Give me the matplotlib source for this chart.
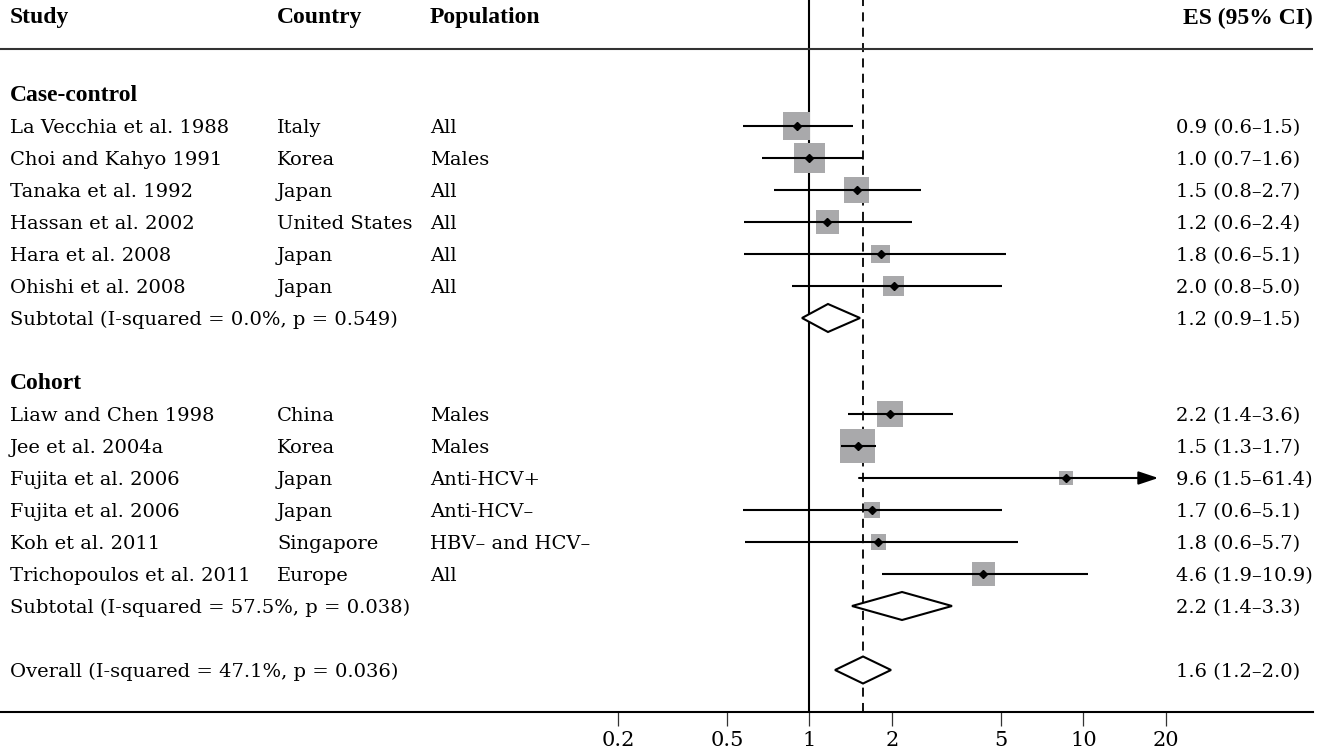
import numpy as np
import matplotlib
matplotlib.use("Agg")
import matplotlib.pyplot as plt
from matplotlib.patches import Polygon
from matplotlib.transforms import blended_transform_factory

# ---------------- data ----------------
studies = ["La Vecchia et al. 1988", "Choi and Kahyo 1991", "Tanaka et al. 1992",
           "Hassan et al. 2002", "Hara et al. 2008", "Ohishi et al. 2008",
           "Liaw and Chen 1998", "Jee et al. 2004a", "Fujita et al. 2006",
           "Fujita et al. 2006", "Koh et al. 2011", "Trichopoulos et al. 2011"]
countries = ["Italy", "Korea", "Japan", "United States", "Japan", "Japan",
             "China", "Korea", "Japan", "Japan", "Singapore", "Europe"]
populations = ["All", "Males", "All", "All", "All", "All",
               "Males", "Males", "Anti-HCV+", "Anti-HCV\u2013", "HBV\u2013 and HCV\u2013", "All"]
es_labels = ["0.9 (0.6\u20131.5)", "1.0 (0.7\u20131.6)", "1.5 (0.8\u20132.7)",
             "1.2 (0.6\u20132.4)", "1.8 (0.6\u20135.1)", "2.0 (0.8\u20135.0)",
             "2.2 (1.4\u20133.6)", "1.5 (1.3\u20131.7)", "9.6 (1.5\u201361.4)",
             "1.7 (0.6\u20135.1)", "1.8 (0.6\u20135.7)", "4.6 (1.9\u201310.9)"]
est = [0.90, 1.00, 1.49, 1.16, 1.82, 2.03, 1.96, 1.50, 8.61, 1.69, 1.78, 4.30]
ci_lo = [0.573, 0.669, 0.744, 0.577, 0.577, 0.866, 1.385, 1.303, 1.516, 0.573, 0.581, 1.844]
ci_hi = [1.445, 1.572, 2.546, 2.373, 5.21, 5.05, 3.331, 1.745, 61.4, 5.05, 5.75, 10.41]
weights = [10.95, 13.52, 9.39, 7.95, 5.42, 6.62, 10.15, 17.88, 2.94, 3.85, 3.38, 7.95]

group_names = ["Case-control", "Cohort"]
group_members = [[0, 1, 2, 3, 4, 5], [6, 7, 8, 9, 10, 11]]
sub_labels = ["Subtotal (I-squared = 0.0%, p = 0.549)",
              "Subtotal (I-squared = 57.5%, p = 0.038)"]
sub_es_labels = ["1.2 (0.9\u20131.5)", "2.2 (1.4\u20133.3)"]
sub_est = [1.168, 2.176]
sub_lo = [0.939, 1.429]
sub_hi = [1.529, 3.312]

overall_label = "Overall (I-squared = 47.1%, p = 0.036)"
overall_es_label = "1.6 (1.2\u20132.0)"
overall_est, overall_lo, overall_hi = 1.568, 1.239, 1.984

headers = ["Study", "Country", "Population"]
tick_values = [0.2, 0.5, 1, 2, 5, 10, 20]
tick_labels = ["0.2", "0.5", "1", "2", "5", "10", "20"]

# ---------------- layout ----------------
W, H = 1325, 754
PX0, PXD = 809.5, 274.0           # pixel of x=1, pixels per decade
ROW0, ROWH = 126.0, 32.0          # pixel of first row, row height
AX_BOTTOM_PX = 712.0
x_clip = 10 ** ((1158.3 - PX0) / PXD)
TXT_DY = 0.06                     # small downward text nudge (rows)

def kpx(p):
    return (p - ROW0) / ROWH

def xf(px):
    return px / W

BODY = dict(family="DejaVu Serif", fontsize=14)
BOLD = dict(family="Liberation Serif", fontsize=17, fontweight="bold")

fig = plt.figure(figsize=(W / 100, H / 100), dpi=100)
ax = fig.add_axes([0, (H - AX_BOTTOM_PX) / H, 1, AX_BOTTOM_PX / H])
ax.set_xscale("log")
ax.set_xlim(10 ** (-PX0 / PXD), 10 ** ((W - PX0) / PXD))
ax.set_ylim(kpx(AX_BOTTOM_PX), kpx(0))
for s in ["left", "right", "top"]:
    ax.spines[s].set_visible(False)
ax.spines["bottom"].set_linewidth(1.5)
ax.spines["bottom"].set_bounds(10 ** (-PX0 / PXD), 10 ** ((1313 - PX0) / PXD))
ax.set_yticks([])
ax.set_xticks(tick_values)
ax.set_xticklabels(tick_labels)
ax.xaxis.set_minor_locator(matplotlib.ticker.NullLocator())
ax.tick_params(axis="x", direction="out", length=10, width=0.9, color="#333333", pad=3.5)
for lab in ax.get_xticklabels():
    lab.set_family("DejaVu Serif")
    lab.set_fontsize(15)

tr = blended_transform_factory(ax.transAxes, ax.transData)

# header
hk = kpx(18)
ax.text(xf(10), hk, headers[0], transform=tr, va="center", ha="left", **BOLD)
ax.text(xf(277), hk, headers[1], transform=tr, va="center", ha="left", **BOLD)
ax.text(xf(430), hk, headers[2], transform=tr, va="center", ha="left", **BOLD)
ax.text(xf(1313), hk, "ES (95% CI)", transform=tr, va="center", ha="right", **BOLD)
ax.plot([0, xf(1313)], [kpx(49), kpx(49)], transform=tr, color="#333333", lw=1.5,
        clip_on=False, solid_capstyle="butt")

# vertical reference lines
ax.axvline(1.0, color="black", lw=1.5, zorder=1)
ax.axvline(overall_est, color="black", lw=1.3, ls=(0, (5, 3.5)), zorder=1)

side_scale = 81.6  # px side for weight 100
row = -1
for g in range(2):
    ax.text(xf(10), row + TXT_DY, group_names[g], transform=tr, va="center", ha="left", **BOLD)
    row += 1
    for i in group_members[g]:
        ty = row + TXT_DY
        ax.text(xf(10), ty, studies[i], transform=tr, va="center", ha="left", **BODY)
        ax.text(xf(277), ty, countries[i], transform=tr, va="center", ha="left", **BODY)
        ax.text(xf(430), ty, populations[i], transform=tr, va="center", ha="left", **BODY)
        ax.text(xf(1176), ty, es_labels[i], transform=tr, va="center", ha="left", **BODY)
        side_pt = side_scale * np.sqrt(weights[i] / 100.0) * 0.72
        ax.scatter([est[i]], [row], marker="s", s=side_pt ** 2, color="#a9a9ab",
                   edgecolors="none", zorder=2)
        if ci_hi[i] > x_clip:
            ax.annotate("", xy=(x_clip, row), xytext=(ci_lo[i], row),
                        arrowprops=dict(arrowstyle="-|>,head_length=0.6,head_width=0.2",
                                        color="black", lw=1.5, shrinkA=0, shrinkB=0,
                                        mutation_scale=20), zorder=3)
        else:
            ax.plot([ci_lo[i], ci_hi[i]], [row, row], color="black", lw=1.5, zorder=3,
                    solid_capstyle="butt")
        ax.plot([est[i]], [row], marker="D", ms=4.5, color="black", zorder=4)
        row += 1
    ax.text(xf(10), row + TXT_DY, sub_labels[g], transform=tr, va="center", ha="left", **BODY)
    ax.text(xf(1176), row + TXT_DY, sub_es_labels[g], transform=tr, va="center", ha="left", **BODY)
    h = 14 / ROWH
    ax.add_patch(Polygon([(sub_lo[g], row), (sub_est[g], row - h), (sub_hi[g], row),
                          (sub_est[g], row + h)], closed=True, facecolor="white",
                         edgecolor="black", lw=1.5, zorder=3))
    row += 2

ax.text(xf(10), row + TXT_DY, overall_label, transform=tr, va="center", ha="left", **BODY)
ax.text(xf(1176), row + TXT_DY, overall_es_label, transform=tr, va="center", ha="left", **BODY)
h = 13.5 / ROWH
ax.add_patch(Polygon([(overall_lo, row), (overall_est, row - h), (overall_hi, row),
                      (overall_est, row + h)], closed=True, facecolor="white",
                     edgecolor="black", lw=1.5, zorder=3))

fig.savefig("out.png", dpi=100)
